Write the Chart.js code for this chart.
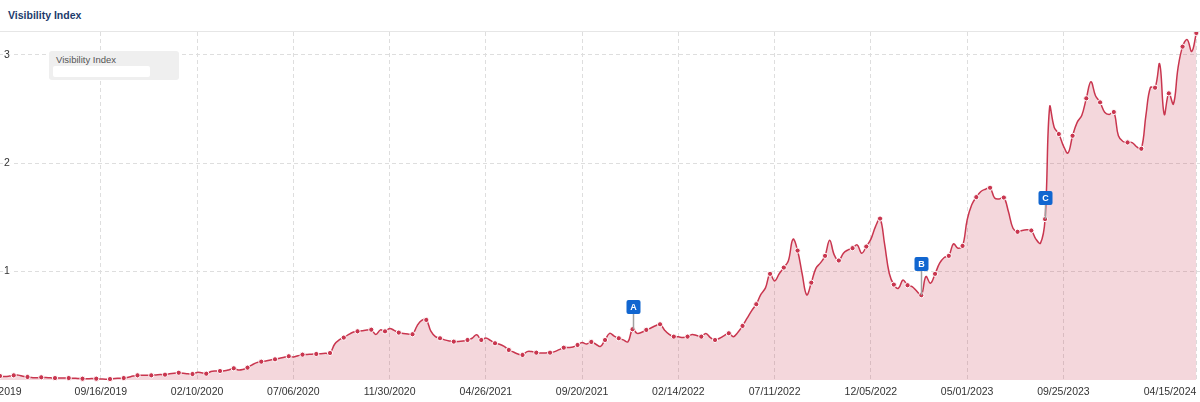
<!DOCTYPE html>
<html>
<head>
<meta charset="utf-8">
<title>Visibility Index</title>
<script src="https://cdn.jsdelivr.net/npm/chart.js@4.4.1/dist/chart.umd.min.js"></script>
<style>
  body { margin: 0; background: #fff; overflow: hidden; font-family: "Liberation Sans", Arial, sans-serif; }
  .title { position: relative; height: 31px; border-bottom: 1px solid #e6e6e6; }
  .title span { position: absolute; left: 8px; top: 9px; font-weight: bold; font-size: 10.5px; color: #1d3b6c; }
  .chart-box { position: relative; width: 1200px; height: 370px; }
  .legend { position: absolute; left: 49px; top: 19px; width: 130px; height: 29px; background: #efefef; border-radius: 3px; }
  .legend span { position: absolute; left: 7px; top: 3px; font-size: 9.5px; color: #555; }
  .legend i { position: absolute; left: 4px; top: 15px; width: 97px; height: 11px; background: #fff; border-radius: 2px; }
</style>
</head>
<body>
<div class="title"><span>Visibility Index</span></div>
<div class="chart-box">
  <canvas id="vi" width="1200" height="370"></canvas>
  <div class="legend"><span>Visibility Index</span><i></i></div>
</div>
<script>
// week 0 = 04/15/2019, one value per week
const startDate = Date.UTC(2019, 3, 15);

const visibility = [
  0.037, 0.033, 0.036, 0.043, 0.045, 0.034, 0.028, 0.022, 0.020, 0.025, 0.023, 0.020,
  0.018, 0.019, 0.018, 0.018, 0.016, 0.014, 0.012, 0.012, 0.013, 0.012, 0.010, 0.007,
  0.009, 0.014, 0.016, 0.018, 0.026, 0.036, 0.043, 0.044, 0.043, 0.043, 0.046, 0.050,
  0.049, 0.057, 0.063, 0.067, 0.062, 0.057, 0.055, 0.070, 0.066, 0.058, 0.079, 0.084,
  0.083, 0.085, 0.095, 0.108, 0.092, 0.097, 0.114, 0.140, 0.160, 0.169, 0.176, 0.185,
  0.191, 0.200, 0.210, 0.219, 0.212, 0.224, 0.234, 0.236, 0.238, 0.240, 0.243, 0.246,
  0.249, 0.330, 0.370, 0.391, 0.418, 0.440, 0.449, 0.455, 0.461, 0.464, 0.420, 0.462,
  0.449, 0.475, 0.458, 0.437, 0.430, 0.425, 0.422, 0.500, 0.550, 0.554, 0.450, 0.400,
  0.385, 0.370, 0.360, 0.354, 0.355, 0.360, 0.369, 0.385, 0.418, 0.369, 0.388, 0.365,
  0.339, 0.330, 0.310, 0.277, 0.258, 0.240, 0.231, 0.262, 0.262, 0.252, 0.248, 0.250,
  0.252, 0.262, 0.280, 0.298, 0.300, 0.305, 0.323, 0.345, 0.332, 0.351, 0.330, 0.310,
  0.369, 0.430, 0.405, 0.385, 0.370, 0.352, 0.468, 0.430, 0.440, 0.462, 0.480, 0.500,
  0.514, 0.460, 0.420, 0.400, 0.398, 0.392, 0.400, 0.420, 0.410, 0.400, 0.430, 0.390,
  0.369, 0.385, 0.410, 0.431, 0.400, 0.440, 0.499, 0.570, 0.640, 0.699, 0.790, 0.850,
  0.979, 0.914, 0.980, 1.037, 1.100, 1.299, 1.194, 0.980, 0.785, 0.898, 1.030, 1.080,
  1.145, 1.290, 1.154, 1.102, 1.170, 1.200, 1.216, 1.246, 1.170, 1.231, 1.300, 1.415,
  1.489, 1.250, 0.985, 0.880, 0.846, 0.923, 0.874, 0.861, 0.820, 0.782, 0.954, 0.893,
  0.979, 1.077, 1.130, 1.145, 1.256, 1.216, 1.237, 1.477, 1.616, 1.687, 1.739, 1.760,
  1.773, 1.678, 1.670, 1.683, 1.554, 1.400, 1.367, 1.380, 1.385, 1.379, 1.300, 1.262,
  1.484, 2.520, 2.330, 2.269, 2.160, 2.093, 2.253, 2.376, 2.440, 2.598, 2.751, 2.622,
  2.561, 2.470, 2.450, 2.472, 2.253, 2.200, 2.191, 2.190, 2.150, 2.133, 2.440, 2.700,
  2.696, 2.916, 2.450, 2.644, 2.545, 2.877, 3.075, 3.140, 3.030, 3.201
];

const tickLabels = [
  '04/08/2019', '09/16/2019', '02/10/2020', '07/06/2020', '11/30/2020', '04/26/2021',
  '09/20/2021', '02/14/2022', '07/11/2022', '12/05/2022', '05/01/2023', '09/25/2023', '04/15/2024'
];
const yTicks = [1, 2, 3];

const eventLabels = ['A', 'B', 'C'];
const eventWeeks = [138, 201, 228];
const eventLift = [15, 24, 14];

const WEEK = 7 * 864e5;
function weekOf(s) {
  const [m, d, y] = s.split('/').map(Number);
  return Math.round((Date.UTC(y, m - 1, d) - startDate) / WEEK);
}
function fmtWeek(w) {
  const d = new Date(startDate + w * WEEK);
  const p = n => String(n).padStart(2, '0');
  return p(d.getUTCMonth() + 1) + '/' + p(d.getUTCDate()) + '/' + d.getUTCFullYear();
}

const red = '#c9364f';
const font = '"Liberation Sans", Arial, sans-serif';
Chart.defaults.font.family = font;

const eventMarkers = {
  id: 'eventMarkers',
  afterDatasetsDraw(chart) {
    const { ctx, scales: { x, y } } = chart;
    ctx.save();
    eventLabels.forEach((label, i) => {
      const wk = eventWeeks[i];
      const px = Math.round(x.getPixelForValue(wk)) + 0.5;
      const py = y.getPixelForValue(visibility[wk]);
      const bottom = Math.round(py - eventLift[i]);
      ctx.strokeStyle = '#a0a0a0';
      ctx.lineWidth = 1.5;
      ctx.beginPath();
      ctx.moveTo(px, bottom);
      ctx.lineTo(px, py);
      ctx.stroke();
      ctx.fillStyle = '#1166d0';
      ctx.beginPath();
      ctx.roundRect(px - 7, bottom - 14, 14, 14, 2);
      ctx.fill();
      ctx.fillStyle = '#fff';
      ctx.font = 'bold 9px ' + font;
      ctx.textAlign = 'center';
      ctx.textBaseline = 'middle';
      ctx.fillText(label, px, bottom - 6.5);
    });
    ctx.restore();
  }
};

new Chart(document.getElementById('vi'), {
  type: 'line',
  data: {
    datasets: [{
      data: visibility.map((v, i) => ({ x: i, y: v })),
      borderColor: red,
      borderWidth: 1.5,
      backgroundColor: 'rgba(201,54,79,0.2)',
      fill: 'origin',
      tension: 0.4,
      pointRadius: ctx => (ctx.dataIndex % 3 === 0 ? 2.6 : 0),
      pointBackgroundColor: red,
      pointBorderColor: '#fff',
      pointBorderWidth: 1,
      clip: false
    }]
  },
  options: {
    responsive: false,
    animation: false,
    events: [],
    layout: { padding: 0, autoPadding: false },
    plugins: { legend: { display: false }, tooltip: { enabled: false } },
    scales: {
      x: {
        type: 'linear',
        min: 0,
        max: 261.8,
        afterBuildTicks: s => {
          // empty first tick so 'inner' keeps the real first label centred
          s.ticks = [{ value: -1000 }].concat(tickLabels.map(t => ({ value: weekOf(t) })));
        },
        afterFit: s => { s.height = 22; s.paddingLeft = 0; s.paddingRight = 0; },
        ticks: {
          autoSkip: false,
          maxRotation: 0,
          align: 'inner',
          padding: 6,
          color: '#333',
          font: { size: 10.5 },
          callback: v => (v < -100 ? '' : fmtWeek(v))
        },
        grid: { color: '#dedede', drawTicks: false },
        border: { display: false, dash: [4, 3] }
      },
      y: {
        min: 0,
        max: 3.21,
        afterBuildTicks: s => { s.ticks = yTicks.map(v => ({ value: v })); },
        afterFit: s => { s.width = 0; s.paddingTop = 0; s.paddingBottom = 0; },
        ticks: {
          mirror: true,
          padding: 4,
          color: '#333',
          font: { size: 10.5 },
          showLabelBackdrop: true,
          backdropColor: '#fff',
          backdropPadding: 1
        },
        grid: { color: '#dedede', drawTicks: false },
        border: { display: false, dash: [4, 3] }
      }
    }
  },
  plugins: [eventMarkers]
});
</script>
</body>
</html>
